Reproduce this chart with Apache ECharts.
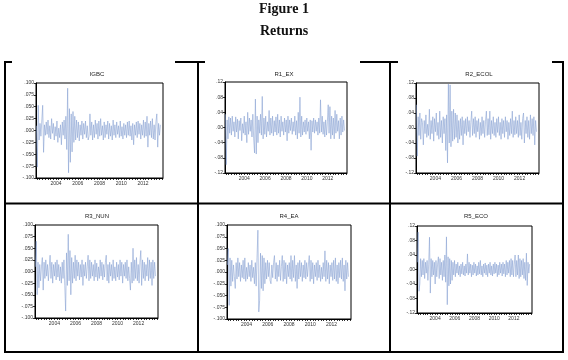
<!DOCTYPE html>
<html>
<head>
<meta charset="utf-8">
<script src="https://cdn.jsdelivr.net/npm/echarts@6/dist/echarts.min.js"></script>
<style>
  html, body { margin: 0; padding: 0; background: #fff; }
  #main { width: 568px; height: 360px; }
</style>
</head>
<body>
<div id="main"></div>
<script>
// year tick labels shared by all panels
var yearLabels = [2004, 2006, 2008, 2010, 2012];
var xMin = 2002.16, xMax = 2013.84;
var dataStart = 2002.2, dataEnd = 2013.6;

// weekly returns
var igbc = [
  .010, -.077, .053, -.020, .015, -.012, .020, .053, -.046, .012,
  -.010, .018, -.008, .022, -.015, .010, -.018, .025, -.006, .015,
  -.020, .008, -.012, .020, -.025, .005, -.015, .012, -.030, .018,
  -.010, .022, -.018, .030, -.040, .089, -.089, .046, -.067, .035,
  -.045, .040, -.025, .030, -.020, .022, -.015, .018, -.022, .012,
  -.010, .020, -.018, .015, -.008, .020, -.015, .010, -.020, -.012,
  .035, -.010, .018, -.020, .012, -.015, .022, -.008, .015, -.018,
  .020, -.012, .025, -.010, .010, -.020, .018, -.015, .012, -.008,
  .020, -.018, .015, -.012, .010, -.020, .022, -.010, .012, -.015,
  .018, -.008, .010, -.015, .020, -.012, .008, -.018, .015, -.010,
  .012, -.015, .018, -.010, .020, -.012, .010, -.020, .015, -.030,
  .012, -.010, .018, -.015, .020, -.008, .015, -.018, .012, -.010,
  .022, -.015, .018, -.012, .030, -.035, .015, -.010, .020, -.015,
  .025, -.018, .012, -.020, .018, .035, -.035, .015, -.010, .012
];
var r1Ex = [
  .035, -.098, .020, -.030, .028, -.015, .025, -.020, .030, -.010,
  .015, -.025, .028, -.012, .022, -.030, .018, -.008, .025, -.035,
  .010, -.015, .030, -.020, .015, -.040, .040, -.018, .025, -.010,
  .020, -.025, .035, -.030, -.067, .075, -.070, .030, -.040, .020,
  -.015, .035, -.020, .082, -.030, .025, -.018, .030, -.025, .015,
  -.010, .045, -.020, .025, -.015, .030, -.022, .018, -.012, .028,
  -.020, .035, -.015, .020, -.025, .030, -.010, .015, -.020, .025,
  -.012, .020, -.035, .030, -.015, .020, -.008, .025, -.018, .015,
  -.010, .030, -.020, .018, -.030, .040, -.015, .080, -.025, .030,
  -.020, .015, -.012, .020, -.018, .025, -.010, .015, -.030, .020,
  -.060, .018, -.012, .025, -.015, .020, -.010, .015, -.020, .025,
  -.015, .073, -.012, .030, -.018, .015, -.025, .020, -.020, .015,
  .060, -.015, .055, -.030, .030, -.020, .025, -.030, .045, -.015,
  .035, -.010, .018, -.030, .025, -.020, .030, -.012, .020, -.008
];
var r2Ecol = [
  .062, -.075, .030, -.020, .040, -.030, .025, .015, -.045, .020,
  -.015, .035, -.025, .010, -.020, .050, -.030, .020, -.015, .030,
  -.035, .025, -.010, .040, -.020, .015, -.030, .045, -.025, .020,
  -.040, .030, -.015, .025, -.060, .035, -.093, .117, -.040, .115,
  -.050, .045, -.035, .050, -.030, .040, -.025, .035, -.040, .020,
  -.030, .025, -.020, .030, -.045, .020, -.015, .025, -.020, .030,
  -.010, .020, -.025, .015, .045, -.020, .025, -.015, .030, -.025,
  .020, -.010, .025, -.030, .015, -.020, .030, -.015, .020, -.025,
  .018, .045, -.020, .025, -.018, .045, -.030, .020, -.015, .030,
  -.020, .015, -.025, .025, -.012, .030, -.020, .015, -.030, .025,
  -.015, .020, -.025, .030, -.010, .020, -.030, .015, -.020, .025,
  -.015, .045, -.025, .020, -.018, .030, -.015, .020, -.025, .035,
  -.020, .015, -.030, .025, .040, -.040, .020, -.015, .030, -.025,
  .020, -.030, .035, -.015, .025, -.020, .030, -.045, .020, -.010
];
var r3Nun = [
  .010, .065, -.050, .020, -.035, .015, -.020, .010, .030, -.040,
  .020, -.015, .025, -.010, .015, -.020, .010, .035, -.015, .020,
  -.025, .015, -.010, .020, -.018, .025, -.012, .015, -.020, .010,
  -.025, .020, -.015, .025, -.030, -.085, .040, -.030, .080, -.020,
  .045, -.050, .030, -.025, .020, -.015, .035, -.020, .025, -.010,
  .020, -.018, .015, -.012, .025, -.030, .015, -.010, .020, -.015,
  .010, .035, -.020, .025, -.015, .020, -.010, .015, -.020, .025,
  -.012, .018, -.020, .010, -.015, .025, -.010, .020, -.018, .015,
  -.012, .020, .035, -.020, .015, -.025, .020, -.010, .015, -.020,
  .025, -.015, .010, -.020, .020, -.012, .015, -.018, .025, -.010,
  .020, -.025, .015, -.010, .020, -.015, .025, -.020, .010, -.015,
  -.040, .020, -.025, .050, -.020, .025, -.015, .030, -.020, .015,
  -.025, .020, .045, -.030, .025, -.015, .020, -.020, .015, -.010,
  .030, -.020, .025, -.015, .020, -.030, .025, -.015, .020, -.010
];
var r4Ea = [
  .015, .050, -.071, .030, -.030, .025, -.020, .015, -.010, -.035,
  .020, -.015, .030, -.010, .020, -.020, .015, -.012, .025, -.015,
  .030, -.020, .010, -.015, .020, -.010, .015, -.020, .025, -.012,
  .010, -.025, .020, -.030, .030, .089, -.085, -.060, .040, -.035,
  .035, -.040, .030, -.025, .020, -.015, .025, -.010, .020, -.018,
  -.025, .015, -.012, .020, .035, -.015, .020, -.020, .015, -.010,
  .025, -.018, .012, .035, -.020, .025, -.015, .020, -.025, .015,
  -.010, .020, -.015, .035, -.020, .025, -.012, .035, -.020, .015,
  -.035, .020, -.015, .025, -.010, .020, -.020, .015, -.012, .025,
  -.015, .020, -.010, .015, .035, -.020, .025, -.015, .020, -.025,
  .015, -.010, .020, -.018, .025, -.012, .015, -.020, .010, -.015,
  .020, -.010, .045, -.020, .025, -.015, .020, -.025, .015, -.010,
  .020, -.018, .025, -.015, .030, -.020, .015, -.025, .020, -.012,
  .025, -.015, .030, -.020, .015, -.040, .025, -.015, .020, -.010
];
var r5Eco = [
  .020, .103, -.060, -.040, .030, -.020, .025, -.015, .030, -.025,
  .020, -.010, .025, -.030, .015, .089, -.065, .030, -.020, .025,
  -.015, .020, -.040, .025, -.020, .015, .035, -.025, .030, -.015,
  .020, -.030, .025, -.020, .040, -.035, .090, -.097, .035, -.045,
  .030, -.040, .025, -.030, .020, -.015, .025, -.020, .015, -.010,
  .020, -.015, .010, -.020, .015, -.012, .020, -.015, .010, -.018,
  .015, -.010, .043, -.015, .020, -.010, .015, -.020, .012, -.015,
  .020, -.010, .015, -.018, .010, -.015, .020, -.012, .025, -.015,
  .010, -.020, .015, -.010, .018, -.015, .012, -.020, .015, -.010,
  .020, -.015, .010, -.018, .015, -.012, .020, -.010, .015, -.020,
  .012, -.015, .020, -.010, .015, -.018, .020, -.012, .015, -.020,
  .025, -.015, .020, -.010, .025, -.020, .030, -.015, .025, -.020,
  .015, .040, -.020, .025, -.015, .040, -.025, .030, -.020, .025,
  -.015, .030, -.025, .020, -.030, .045, -.044, .020, -.010, .015
];

// layout of the six panels: grid [left, top, width, height], title centre
var panels = [
  { name: "IGBC",    data: igbc,   grid: [36, 83, 127, 95],  title: [97, 74],  lim: 0.1,  step: 0.025, digits: 3 },
  { name: "R1_EX",   data: r1Ex,   grid: [225, 82, 122, 91], title: [284, 74], lim: 0.12, step: 0.04,  digits: 2 },
  { name: "R2_ECOL", data: r2Ecol, grid: [416, 83, 123, 90], title: [479, 74], lim: 0.12, step: 0.04,  digits: 2 },
  { name: "R3_NUN",  data: r3Nun,  grid: [35, 225, 123, 93], title: [97, 216], lim: 0.1,  step: 0.025, digits: 3 },
  { name: "R4_EA",   data: r4Ea,   grid: [227, 225, 124, 94], title: [289, 216], lim: 0.1, step: 0.025, digits: 3 },
  { name: "R5_ECO",  data: r5Eco,  grid: [417, 226, 115, 87], title: [476, 216], lim: 0.12, step: 0.04, digits: 2 }
];

// quarterly minor ticks along the time axis
var quarterTicks = [];
for (var q = Math.ceil(xMin * 4); q <= Math.floor(xMax * 4); q++) quarterTicks.push(q / 4);

var grids = [], xAxes = [], yAxes = [], series = [];
var graphics = [
  { type: "text", left: "center", top: 2, style: { text: "Figure 1", font: "bold 14px 'Liberation Serif'", fill: "#111" } },
  { type: "text", left: "center", top: 24, style: { text: "Returns", font: "bold 14px 'Liberation Serif'", fill: "#111" } }
];

panels.forEach(function (p, k) {
  grids.push({
    left: p.grid[0], top: p.grid[1], width: p.grid[2], height: p.grid[3],
    show: true, borderColor: "#000", borderWidth: 1
  });
  xAxes.push({
    gridIndex: k, type: "value", min: xMin, max: xMax,
    axisLine: { onZero: false, lineStyle: { color: "#000", width: 1 } },
    axisTick: { customValues: quarterTicks, length: 2, lineStyle: { color: "#000", width: 0.8 } },
    axisLabel: {
      customValues: yearLabels, fontSize: 5, color: "#333", margin: 3,
      fontFamily: "Liberation Sans",
      formatter: function (v) { return String(Math.round(v)); }
    },
    splitLine: { show: false }
  });
  yAxes.push({
    gridIndex: k, type: "value", min: -p.lim, max: p.lim, interval: p.step,
    axisLine: { show: true, onZero: false, lineStyle: { color: "#000", width: 1 } },
    axisTick: { show: true, length: 2, lineStyle: { color: "#000", width: 0.8 } },
    axisLabel: {
      fontSize: 5, color: "#333", margin: 2, fontFamily: "Liberation Sans",
      formatter: function (v) { return v.toFixed(p.digits).replace("0.", "."); }
    },
    splitLine: { show: false }
  });
  var n = p.data.length;
  series.push({
    name: p.name, type: "line", xAxisIndex: k, yAxisIndex: k,
    symbol: "none", animation: false,
    lineStyle: { color: "#8aa3d4", width: 0.6 },
    data: p.data.map(function (v, i) {
      return [dataStart + i * (dataEnd - dataStart) / (n - 1), v];
    })
  });
  graphics.push({
    type: "text", x: p.title[0], y: p.title[1],
    style: { text: p.name, font: "6px 'Liberation Sans'", fill: "#222", align: "center", verticalAlign: "middle" }
  });
});

// table frame round the panels (partly hidden at the top, as in the figure)
function hline(x1, x2, y) {
  return { type: "line", shape: { x1: x1, y1: y, x2: x2, y2: y }, style: { stroke: "#000", lineWidth: 2 } };
}
function vline(x, y1, y2) {
  return { type: "line", shape: { x1: x, y1: y1, x2: x, y2: y2 }, style: { stroke: "#000", lineWidth: 2 } };
}
graphics.push(
  hline(5, 12, 62), hline(175, 205, 62), hline(360, 398, 62), hline(552, 563, 62),
  hline(5, 563, 203.5), hline(5, 563, 352),
  vline(5, 61, 353), vline(198, 61, 353), vline(390, 61, 353), vline(563, 61, 353)
);

var myChart = echarts.init(document.getElementById("main"));
myChart.setOption({
  animation: false,
  grid: grids,
  xAxis: xAxes,
  yAxis: yAxes,
  series: series,
  graphic: graphics
});
</script>
</body>
</html>
